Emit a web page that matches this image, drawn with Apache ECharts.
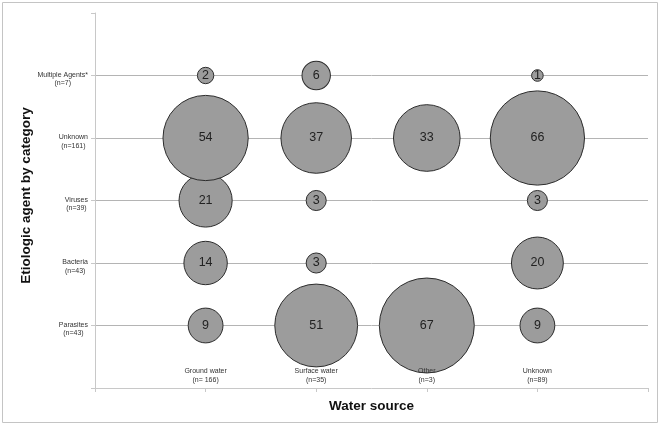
<!DOCTYPE html>
<html>
<head>
<meta charset="utf-8">
<script src="https://cdn.jsdelivr.net/npm/echarts@6/dist/echarts.min.js"></script>
<style>
  html, body { margin: 0; padding: 0; background: #fff; }
  #main { width: 662px; height: 426px; }
</style>
</head>
<body>
<div id="main"></div>
<script>
// water sources (x) and agent categories (y); empty ends pad the axes
const xNames = ["", "Ground water", "Surface water", "Other", "Unknown", ""];
const xCounts = ["", "(n= 166)", "(n=35)", "(n=3)", "(n=89)", ""];
const yNames = ["", "Parasites", "Bacteria", "Viruses", "Unknown", "Multiple Agents*", ""];
const yCounts = ["", "(n=43)", "(n=43)", "(n=39)", "(n=161)", "(n=7)", ""];

// outbreaks per water source (Ground, Surface, Other, Unknown)
const parasites = [9, 51, 67, 9];
const bacteria = [14, 3, null, 20];
const viruses = [21, 3, null, 3];
const unknownAgent = [54, 37, 33, 66];
const multipleAgents = [2, 6, null, 1];

const rows = [parasites, bacteria, viruses, unknownAgent, multipleAgents];

let points = [];
rows.forEach((row, r) => {
  row.forEach((v, c) => {
    if (v != null) points.push([c + 1, r + 1, v]);
  });
});

const font = "Liberation Sans, Arial, sans-serif";

let chartDom = document.getElementById("main");
let myChart = echarts.init(chartDom);
let option;

option = {
  animation: false,
  graphic: [
    {
      type: "rect",
      shape: { x: 2.5, y: 2.5, width: 655, height: 420 },
      style: { fill: "none", stroke: "#c4c4c4", lineWidth: 1 },
      silent: true,
    },
  ],
  grid: {
    left: 95,
    right: 14,
    top: 13,
    bottom: 38,
  },
  xAxis: {
    type: "category",
    data: xNames,
    boundaryGap: false,
    z: 5,
    name: "Water source",
    nameLocation: "middle",
    nameGap: 11,
    nameMoveOverlap: false,
    nameTextStyle: {
      fontFamily: font,
      fontWeight: "bold",
      fontSize: 13.5,
      color: "#111",
      verticalAlign: "top",
    },
    axisLine: { lineStyle: { color: "#c8c8c8", width: 1 } },
    axisTick: { show: true, interval: 0, length: 4, lineStyle: { color: "#c8c8c8" } },
    axisLabel: {
      inside: true,
      interval: 0,
      margin: 4,
      formatter: function (value, idx) {
        if (!value) return "";
        return "{a|" + value + "}\n{a|" + xCounts[idx] + "}";
      },
      rich: {
        a: { align: "center", fontSize: 7, lineHeight: 8.5, color: "#333", fontFamily: font },
      },
    },
    splitLine: { show: false },
  },
  yAxis: {
    type: "category",
    data: yNames,
    boundaryGap: false,
    name: "Etiologic agent by category",
    nameLocation: "middle",
    nameGap: 62,
    nameMoveOverlap: false,
    nameTextStyle: {
      fontFamily: font,
      fontWeight: "bold",
      fontSize: 13.5,
      color: "#111",
      padding: [0, 0, 0, 10],
    },
    axisLine: { lineStyle: { color: "#c8c8c8", width: 1 } },
    axisTick: { show: true, interval: 0, length: 4, lineStyle: { color: "#c8c8c8" } },
    axisLabel: {
      interval: 0,
      margin: 7,
      formatter: function (value, idx) {
        if (!value) return "";
        return "{a|" + value + "}\n{a|" + yCounts[idx] + "}";
      },
      rich: {
        a: { align: "center", fontSize: 7, lineHeight: 8.5, color: "#333", fontFamily: font },
      },
      padding: [7, 0, 0, 0],
    },
    splitLine: {
      show: true,
      interval: function (index) {
        return index > 0 && index < yNames.length - 1;
      },
      lineStyle: { color: "#b4b4b4", width: 1 },
    },
  },
  series: [
    {
      type: "scatter",
      data: points,
      symbolSize: function (v) {
        return 11.6 * Math.sqrt(v[2]);
      },
      itemStyle: {
        color: "#9c9c9c",
        borderColor: "#2b2b2b",
        borderWidth: 1,
        opacity: 1,
      },
      label: {
        show: true,
        position: "inside",
        formatter: function (p) {
          return p.value[2];
        },
        fontFamily: font,
        fontSize: 12.5,
        color: "#222",
      },
      emphasis: { disabled: true },
    },
  ],
};

option && myChart.setOption(option);
</script>
</body>
</html>
